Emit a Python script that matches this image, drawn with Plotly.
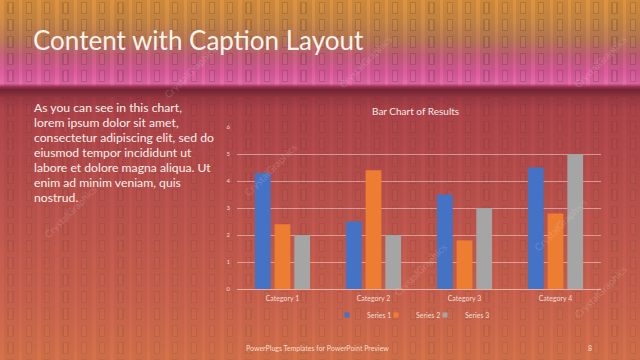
import numpy as np, zlib, struct, base64
import plotly.graph_objects as go

# ---------------- data ----------------
categories = ["Category 1", "Category 2", "Category 3", "Category 4"]
series1 = [4.3, 2.5, 3.5, 4.5]
series2 = [2.4, 4.4, 1.8, 2.8]
series3 = [2.0, 2.0, 3.0, 5.0]
series_names = ["Series 1", "Series 2", "Series 3"]
y_ticks = [0, 1, 2, 3, 4, 5, 6]

slide_title = "Content with Caption Layout"
chart_title = "Bar Chart of Results"
body_lines = [
    "As you can see in this chart,",
    "lorem ipsum dolor sit amet,",
    "consectetur adipiscing elit, sed do",
    "eiusmod tempor incididunt ut",
    "labore et dolore magna aliqua. Ut",
    "enim ad minim veniam, quis",
    "nostrud.",
]
footer_text = "PowerPlugs Templates for PowerPoint Preview"
page_number = "8"
watermark = "CrystalGraphics"

# ---------------- background texture ----------------
W, H = 640, 360
stops = [(0, (206, 136, 60)), (20, (192, 130, 66)), (40, (176, 114, 82)),
         (55, (186, 90, 116)), (72, (205, 86, 145)), (83, (214, 100, 158)),
         (86, (160, 52, 86)), (89, (112, 36, 52)), (97, (150, 55, 65)),
         (110, (168, 66, 72)), (200, (182, 80, 75)), (300, (196, 96, 76)),
         (360, (206, 110, 72))]
ys = np.arange(H)
sy = [s[0] for s in stops]
grad = np.stack([np.interp(ys, sy, [s[1][c] for s in stops]) for c in range(3)], axis=1)
img = np.repeat(grad[:, None, :], W, axis=1)
xx, yy = np.meshgrid(np.arange(W), np.arange(H))
xm = xx % 18.3
ym = yy % 17
stripe = (xm < 3.5)
win_y = (ym >= 2) & (ym <= 13)
win_outline = win_y & (((xm >= 7) & (xm < 8.2)) | ((xm >= 12) & (xm < 13.2)) |
                       (((ym < 3) | (ym > 12)) & (xm >= 7) & (xm < 13.2)))
win_inner = win_y & (xm >= 8.2) & (xm < 12) & (ym >= 3) & (ym <= 12)
pat = np.zeros_like(xm)
pat = np.where(stripe, 0.7, pat)
pat = np.where(win_inner, 0.35, pat)
pat = np.where(win_outline, -1.0, pat)
amp = np.where(yy < 86, 0.12, np.where(yy < 97, 0.0, 0.06))
img = img * (1 + amp[..., None] * pat[..., None])
img = np.clip(img, 0, 255).astype(np.uint8)

def to_png(a):
    h, w, _ = a.shape
    raw = b"".join(b"\x00" + a[r].tobytes() for r in range(h))
    def chunk(t, d):
        c = struct.pack(">I", len(d)) + t + d
        return c + struct.pack(">I", zlib.crc32(t + d) & 0xffffffff)
    return (b"\x89PNG\r\n\x1a\n" + chunk(b"IHDR", struct.pack(">IIBBBBB", w, h, 8, 2, 0, 0, 0))
            + chunk(b"IDAT", zlib.compress(raw, 9)) + chunk(b"IEND", b""))

bg_uri = "data:image/png;base64," + base64.b64encode(to_png(img)).decode()

# ---------------- figure ----------------
def px(x):
    return x / W

def py(y):
    return 1 - y / H

colors = ["#4472C4", "#ED7D31", "#A5A5A5"]
legend_ids = ["legend", "legend2", "legend3"]
legend_marker_x = [347, 396, 445]

fig = go.Figure()
for name, vals, c, lid in zip(series_names, [series1, series2, series3], colors, legend_ids):
    fig.add_trace(go.Bar(x=categories, y=vals, name=name, marker_color=c,
                         marker_line_width=0, showlegend=False, legendgroup=name))
    # legend-only entry with a small square swatch
    fig.add_trace(go.Scatter(x=[None], y=[None], mode="markers", name=name, legend=lid,
                             legendgroup=name,
                             marker=dict(symbol="square", size=5, color=c)))

font_family = "Lato, 'Open Sans', sans-serif"
legend_common = dict(orientation="h", yanchor="middle", xanchor="left", y=py(315),
                     font=dict(size=7, color="#f1dcd6"), bgcolor="rgba(0,0,0,0)",
                     itemwidth=30, borderwidth=0)
fig.update_layout(
    width=W, height=H,
    margin=dict(l=0, r=0, t=0, b=0, pad=0, autoexpand=False),
    paper_bgcolor="#b04a48",
    plot_bgcolor="rgba(0,0,0,0)",
    barmode="group", bargap=0.35, bargroupgap=0.2,
    font=dict(family=font_family, color="#f3e2dc"),
    xaxis=dict(domain=[px(237), px(601)], showgrid=False, showline=False, zeroline=False,
               tickfont=dict(size=7, color="#f1dcd6"), ticks="", ticklabelstandoff=4,
               automargin=False),
    yaxis=dict(domain=[py(289), py(127)], range=[0, 6], tickvals=y_ticks,
               showgrid=True, gridcolor="rgba(255,225,220,0.5)", gridwidth=1,
               zeroline=True, zerolinecolor="rgba(255,225,220,0.6)", zerolinewidth=1,
               showline=False, ticks="", tickfont=dict(size=6, color="#f1d6d0"),
               ticklabelstandoff=6, automargin=False),
    legend=dict(legend_common, x=px(legend_marker_x[0] - 20)),
    legend2=dict(legend_common, x=px(legend_marker_x[1] - 20)),
    legend3=dict(legend_common, x=px(legend_marker_x[2] - 20)),
    images=[dict(source=bg_uri, xref="paper", yref="paper", x=0, y=1, sizex=1, sizey=1,
                 xanchor="left", yanchor="top", sizing="stretch", layer="below")],
)

ann = []
ann.append(dict(text=slide_title, x=px(31), y=py(40), xref="paper", yref="paper",
                xanchor="left", yanchor="middle", showarrow=False,
                font=dict(size=26, color="#fbf3ea", family=font_family)))
ann.append(dict(text=chart_title, x=px(415), y=py(111), xref="paper", yref="paper",
                xanchor="center", yanchor="middle", showarrow=False,
                font=dict(size=10, color="#f6e8e4", family=font_family)))
for i, line in enumerate(body_lines):
    ann.append(dict(text=line, x=px(32), y=py(107 + 15 * i), xref="paper", yref="paper",
                    xanchor="left", yanchor="middle", showarrow=False,
                    font=dict(size=12.2, color="#fbf0ea", family=font_family)))
ann.append(dict(text=footer_text, x=px(244), y=py(348), xref="paper", yref="paper",
                xanchor="left", yanchor="middle", showarrow=False,
                font=dict(size=7, color="#f6dccc", family=font_family)))
ann.append(dict(text=page_number, x=px(590), y=py(348), xref="paper", yref="paper",
                xanchor="center", yanchor="middle", showarrow=False,
                font=dict(size=7, color="#f6dccc", family=font_family)))
# faint watermarks
for (wx, wy) in [(190, 72), (365, 62), (600, 62), (70, 212), (270, 170), (420, 270), (560, 225), (600, 292)]:
    ann.append(dict(text=watermark, x=px(wx), y=py(wy), xref="paper", yref="paper",
                    xanchor="center", yanchor="middle", showarrow=False, textangle=-45,
                    font=dict(size=10, color="rgba(255,235,225,0.2)", family=font_family)))
fig.update_layout(annotations=ann)

fig.write_html("out.html", config={"displayModeBar": False},
               post_script="document.body.style.margin='0';")
